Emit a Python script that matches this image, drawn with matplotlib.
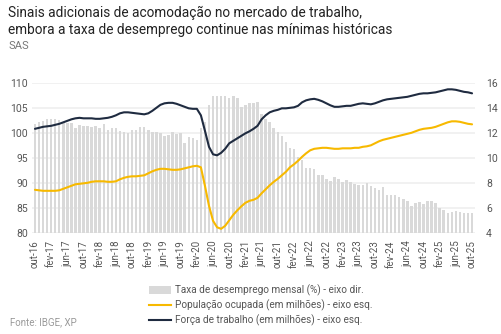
import matplotlib

matplotlib.use("Agg")
import matplotlib.pyplot as plt
from matplotlib.lines import Line2D
from matplotlib.patches import Patch

plt.rcParams["font.family"] = ["Roboto", "DejaVu Sans"]

# ---- data (monthly, out-16 .. out-25) --------------------------------------
MESES = ["jan", "fev", "mar", "abr", "mai", "jun",
         "jul", "ago", "set", "out", "nov", "dez"]

# taxa de desemprego mensal (%) - eixo dir.
desemprego = [
    12.75, 12.93, 12.98, 13.12, 13.12, 13.15, 13.04, 12.93, 12.83, 12.80,
    12.45, 12.67, 12.61, 12.56, 12.50, 12.61, 12.45, 12.72, 12.24, 12.45,
    12.45, 12.19, 12.08, 12.00, 12.27, 12.27, 12.48, 12.48, 12.27, 12.08,
    12.13, 12.00, 11.81, 11.87, 12.08, 11.97, 12.00, 11.25, 11.71, 11.65,
    11.44, 12.40, 12.88, 14.27, 15.00, 15.00, 14.95, 14.95, 14.80, 15.00,
    14.80, 14.10, 14.30, 14.40, 14.40, 14.53, 13.52, 13.12, 12.88, 12.40,
    12.13, 11.79, 11.33, 10.80, 10.72, 10.13, 9.87, 9.20, 9.20, 9.12,
    8.67, 8.67, 8.35, 8.21, 8.48, 8.32, 8.13, 8.27, 8.13, 7.95,
    7.87, 7.87, 8.00, 7.79, 7.60, 7.47, 7.73, 7.07, 7.07, 7.07,
    6.88, 6.72, 6.61, 6.21, 6.45, 6.53, 6.32, 6.59, 6.61, 6.40,
    6.05, 5.87, 5.65, 5.73, 5.79, 5.73, 5.65, 5.60, 5.60,
]

# população ocupada (em milhões) - eixo esq.
ocupada = [
    88.7, 88.6, 88.5, 88.5, 88.5, 88.5, 88.6, 88.9, 89.2, 89.5,
    89.8, 89.9, 90.0, 90.1, 90.3, 90.4, 90.4, 90.4, 90.3, 90.3,
    90.4, 90.8, 91.1, 91.3, 91.4, 91.4, 91.5, 91.6, 92.0, 92.4,
    92.7, 92.9, 92.9, 92.8, 92.7, 92.7, 92.8, 93.0, 93.2, 93.4,
    93.5, 93.2, 89.5, 85.5, 82.5, 81.2, 80.9, 81.5, 82.6, 83.7,
    84.6, 85.4, 86.1, 86.5, 86.7, 87.1, 88.0, 88.8, 89.6, 90.3,
    90.9, 91.6, 92.3, 93.2, 93.8, 94.5, 95.3, 96.0, 96.6, 96.9,
    97.0, 97.1, 97.1, 97.0, 96.9, 96.9, 97.0, 97.0, 97.0, 97.1,
    97.1, 97.3, 97.4, 97.6, 98.0, 98.4, 98.7, 98.9, 99.1, 99.3,
    99.5, 99.7, 99.9, 100.1, 100.4, 100.7, 100.9, 101.0, 101.1, 101.3,
    101.6, 101.9, 102.2, 102.4, 102.4, 102.3, 102.1, 101.9, 101.8,
]

# força de trabalho (em milhões) - eixo esq.
forca = [
    100.9, 101.1, 101.3, 101.4, 101.5, 101.7, 101.9, 102.2, 102.5, 102.8,
    103.0, 103.1, 103.0, 103.0, 103.0, 102.9, 102.9, 103.0, 103.1, 103.3,
    103.6, 104.0, 104.2, 104.2, 104.1, 104.0, 103.9, 103.8, 104.0, 104.5,
    105.1, 105.7, 106.0, 106.1, 106.1, 105.9, 105.6, 105.3, 105.0, 104.9,
    104.9, 103.6, 100.5, 97.3, 95.8, 95.6, 96.1, 96.9, 98.0, 98.5,
    99.0, 99.5, 100.0, 100.4, 100.9, 101.5, 102.8, 103.6, 104.2, 104.5,
    104.7, 105.0, 105.0, 105.1, 105.2, 105.5, 106.2, 106.6, 106.8, 106.9,
    106.7, 106.4, 106.0, 105.6, 105.3, 105.3, 105.4, 105.5, 105.5, 105.7,
    105.9, 106.0, 105.9, 105.8, 106.0, 106.3, 106.6, 106.8, 106.9, 107.0,
    107.1, 107.2, 107.3, 107.5, 107.7, 107.9, 108.0, 108.0, 108.1, 108.2,
    108.4, 108.6, 108.8, 108.8, 108.7, 108.5, 108.3, 108.2, 108.0,
]

# month labels: out-16 onward
rotulos = []
m, a = 9, 16
for _ in desemprego:
    rotulos.append(f"{MESES[m]}-{a:02d}")
    m += 1
    if m == 12:
        m, a = 0, a + 1

C_BAR = "#d9d9d9"
C_YEL = "#f7b900"
C_NAVY = "#1f2b40"
C_TXT = "#555555"

fig = plt.figure(figsize=(5.02, 3.34), dpi=100)
fig.patch.set_facecolor("white")

ax = fig.add_axes([0.064, 0.3015, 0.882, 0.449])
ax2 = ax.twinx()
ax.set_zorder(2)
ax2.set_zorder(1)
ax.patch.set_visible(False)

x = list(range(len(desemprego)))
ax2.bar(x, desemprego, width=0.62, color=C_BAR, zorder=2)
ax2.set_ylim(4, 16)
ax2.set_yticks(range(4, 17, 2))
ax2.grid(axis="y", color="#f1f1f1", lw=1.4, zorder=0)
ax2.set_axisbelow(True)

ax.plot(x, ocupada, color=C_YEL, lw=1.5, solid_capstyle="round")
ax.plot(x, forca, color=C_NAVY, lw=1.5, solid_capstyle="round")
ax.set_ylim(80, 110)
ax.set_yticks(range(80, 111, 5))
ax.set_xlim(-0.7, len(x) - 0.3)
ax.set_xticks(x[::4])
ax.set_xticklabels(rotulos[::4], rotation=90)

for a_ in (ax, ax2):
    for s in a_.spines.values():
        s.set_visible(False)
    a_.tick_params(length=0, colors=C_TXT, labelsize=7.5)
ax.tick_params(axis="y", pad=3)
ax2.tick_params(axis="y", pad=8)
ax.tick_params(axis="x", pad=5, labelsize=7)

fig.text(0.016, 0.962, "Sinais adicionais de acomodação no mercado de trabalho,",
         fontsize=9.8, color="#222222", va="center")
fig.text(0.016, 0.91, "embora a taxa de desemprego continue nas mínimas históricas",
         fontsize=9.8, color="#222222", va="center")
fig.text(0.016, 0.862, "SAS", fontsize=8, color="#777777", va="center")
fig.text(0.02, 0.035, "Fonte: IBGE, XP", fontsize=7, color="#9a9a9a", va="center")

handles = [
    Patch(facecolor=C_BAR, edgecolor="none"),
    Line2D([], [], color=C_YEL, lw=1.5),
    Line2D([], [], color=C_NAVY, lw=1.5),
]
labels = [
    "Taxa de desemprego mensal (%) - eixo dir.",
    "População ocupada (em milhões) - eixo esq.",
    "Força de trabalho (em milhões) - eixo esq.",
]
leg = fig.legend(handles, labels, loc="upper left", bbox_to_anchor=(0.297, 0.148),
                 frameon=False, fontsize=7.2, handlelength=2.2, handleheight=0.8,
                 handletextpad=0.4, labelspacing=0.35, borderpad=0, borderaxespad=0)
for t in leg.get_texts():
    t.set_color(C_TXT)

fig.savefig("out.png", dpi=100, facecolor="white")
